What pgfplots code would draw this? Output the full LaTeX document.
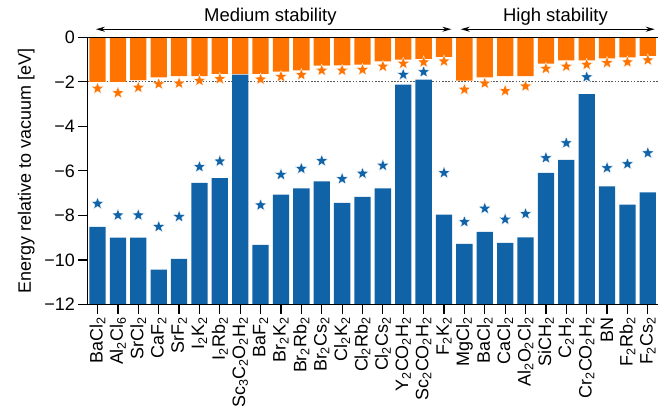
\documentclass[border=0pt]{standalone}
\usepackage{fontspec}
\setmainfont{Liberation Sans}
\usepackage{pgfplots}
\usepackage{pgfplotstable}
\pgfplotsset{compat=1.18}
\usetikzlibrary{arrows.meta}
\definecolor{barorange}{RGB}{255,115,0}
\definecolor{barblue}{RGB}{17,99,168}
\newcommand{\s}[1]{\textsubscript{#1}}
\newcommand{\lbl}{\fontsize{18}{20}\selectfont}

\pgfdeclareplotmark{fstar}{%
  \pgfpathmoveto{\pgfqpointpolar{90}{\pgfplotmarksize}}%
  \pgfpathlineto{\pgfqpointpolar{126}{0.42\pgfplotmarksize}}%
  \pgfpathlineto{\pgfqpointpolar{162}{\pgfplotmarksize}}%
  \pgfpathlineto{\pgfqpointpolar{198}{0.42\pgfplotmarksize}}%
  \pgfpathlineto{\pgfqpointpolar{234}{\pgfplotmarksize}}%
  \pgfpathlineto{\pgfqpointpolar{270}{0.42\pgfplotmarksize}}%
  \pgfpathlineto{\pgfqpointpolar{306}{\pgfplotmarksize}}%
  \pgfpathlineto{\pgfqpointpolar{342}{0.42\pgfplotmarksize}}%
  \pgfpathlineto{\pgfqpointpolar{18}{\pgfplotmarksize}}%
  \pgfpathlineto{\pgfqpointpolar{54}{0.42\pgfplotmarksize}}%
  \pgfpathclose
  \pgfusepathqfillstroke
}

\pgfplotstableread{
x o os b bs
0 -2.00 -2.30 -8.51 -7.47
1 -2.00 -2.50 -9.00 -7.99
2 -1.92 -2.26 -9.00 -7.99
3 -1.80 -2.10 -10.43 -8.51
4 -1.74 -2.07 -9.95 -8.06
5 -1.74 -1.95 -6.54 -5.82
6 -1.64 -1.87 -6.32 -5.57
7 -1.64 nan -1.68 nan
8 -1.64 -1.89 -9.32 -7.54
9 -1.54 -1.77 -7.06 -6.17
10 -1.49 -1.69 -6.79 -5.90
11 -1.27 -1.49 -6.47 -5.55
12 -1.26 -1.49 -7.44 -6.36
13 -1.23 -1.46 -7.17 -6.12
14 -1.08 -1.31 -6.79 -5.76
15 -1.00 -1.18 -2.13 -1.68
16 -0.97 -1.12 -1.90 -1.56
17 -0.88 -1.08 -7.96 -6.09
18 -1.95 -2.35 -9.28 -8.29
19 -1.80 -2.07 -8.74 -7.69
20 -1.74 -2.41 -9.23 -8.18
21 -1.74 -2.20 -8.99 -7.93
22 -1.18 -1.41 -6.09 -5.42
23 -1.04 -1.31 -5.51 -4.75
24 -1.04 -1.23 -2.55 -1.79
25 -0.95 -1.15 -6.69 -5.87
26 -0.90 -1.12 -7.51 -5.69
27 -0.84 -1.03 -6.96 -5.20
}\data

\begin{document}
\begin{tikzpicture}
% blue bars rising from the bottom of the axis (-12)
\begin{axis}[
  width=571.5pt, height=267.7pt, scale only axis,
  xmin=-0.5, xmax=27.5, ymin=-12, ymax=0,
  hide axis, clip=false,
  y coord trafo/.code={\pgfmathparse{#1+12}},
  y coord inv trafo/.code={\pgfmathparse{#1-12}},
]
\addplot[draw=black!65, line width=0.8pt, dash pattern=on 1.6pt off 1.6pt] coordinates {(-0.5,-2) (27.5,-2)};
\addplot[ybar, bar width=0.8, bar shift=0pt, fill=barblue, draw=none] table[x=x, y=b] {\data};
\end{axis}
% main axis
\begin{axis}[
  width=571.5pt, height=267.7pt, scale only axis,
  xmin=-0.5, xmax=27.5, ymin=-12, ymax=0,
  axis x line*=box, axis y line*=left,
  xtick pos=left, ytick pos=left,
  tick align=outside,
  major tick length=9pt,
  every tick/.style={black, line width=1.2pt},
  axis line style={black, line width=1.2pt},
  axis on top, clip=false,
  xtick={0,...,27},
  xticklabels={BaCl\s{2}, Al\s{2}Cl\s{6}, SrCl\s{2}, CaF\s{2}, SrF\s{2}, I\s{2}K\s{2}, I\s{2}Rb\s{2}, Sc\s{3}C\s{2}O\s{2}H\s{2}, BaF\s{2}, Br\s{2}K\s{2}, Br\s{2}Rb\s{2}, Br\s{2}Cs\s{2}, Cl\s{2}K\s{2}, Cl\s{2}Rb\s{2}, Cl\s{2}Cs\s{2}, Y\s{2}CO\s{2}H\s{2}, Sc\s{2}CO\s{2}H\s{2}, F\s{2}K\s{2}, MgCl\s{2}, BaCl\s{2}, CaCl\s{2}, Al\s{2}O\s{2}Cl\s{2}, SiCH\s{2}, C\s{2}H\s{2}, Cr\s{2}CO\s{2}H\s{2}, BN, F\s{2}Rb\s{2}, F\s{2}Cs\s{2}},
  xticklabel style={rotate=90, anchor=east, font=\lbl},
  ytick={-12,-10,-8,-6,-4,-2,0},
  yticklabels={−12,−10,−8,−6,−4,−2,0},
  yticklabel style={font=\lbl},
  ylabel={Energy relative to vacuum [eV]},
  ylabel style={font=\lbl},
  ylabel shift=3pt,
]
\addplot[ybar, bar width=0.8, bar shift=0pt, fill=barorange, draw=none] table[x=x, y=o] {\data};
\addplot[only marks, mark=fstar, mark size=6.4pt, mark options={fill=barorange, draw=white, line width=0.3pt}] table[x=x, y=os] {\data};
\addplot[only marks, mark=fstar, mark size=6.4pt, mark options={fill=barblue, draw=white, line width=0.3pt}] table[x=x, y=bs] {\data};
\draw[{Stealth[length=9pt,width=5pt]}-{Stealth[length=9pt,width=5pt]}, line width=1pt] (axis cs:-0.08,0.36) -- (axis cs:17.36,0.36);
\draw[{Stealth[length=9pt,width=5pt]}-{Stealth[length=9pt,width=5pt]}, line width=1pt] (axis cs:17.82,0.36) -- (axis cs:27.34,0.36);
\node[font=\fontsize{18.5}{20}\selectfont, anchor=base] at (axis cs:8.48,0.72) {Medium stability};
\node[font=\fontsize{18.5}{20}\selectfont, anchor=base] at (axis cs:22.47,0.72) {High stability};
\coordinate (bl) at (rel axis cs:0,0);
\coordinate (tr) at (rel axis cs:1,1);
\end{axis}
\pgfresetboundingbox
\path (bl) ++(-87.5pt,-105pt) coordinate (A);
\path (tr) ++(-1pt,37.3pt) coordinate (B);
\path[use as bounding box] (A) rectangle (B);
\end{tikzpicture}
\end{document}
